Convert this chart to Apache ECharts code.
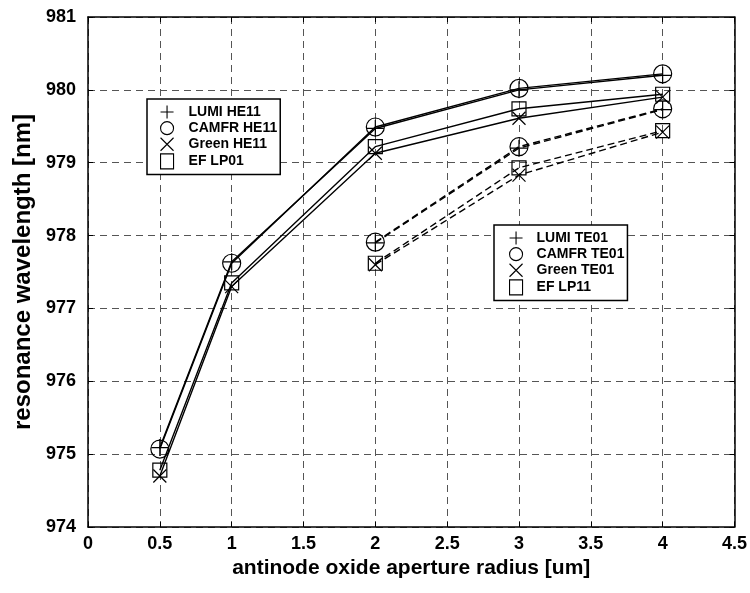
<!DOCTYPE html>
<html>
<head>
<meta charset="utf-8">
<script src="https://cdn.jsdelivr.net/npm/echarts@6/dist/echarts.min.js"></script>
<style>
  html, body { margin: 0; padding: 0; background: #fff; }
  #chart { width: 750px; height: 593px; }
</style>
</head>
<body>
<div id="chart"></div>
<script>
// Aperture radii [um]
const radiusHE = [0.5, 1, 2, 3, 4];
const radiusTE = [2, 3, 4];

// Fundamental mode resonance wavelengths [nm]
const lumiHE11  = [975.09, 977.64, 979.47, 980.00, 980.20];
const camfrHE11 = [975.07, 977.62, 979.49, 980.02, 980.22];
const greenHE11 = [974.70, 977.30, 979.13, 979.61, 979.90];
const efLP01    = [974.78, 977.35, 979.22, 979.74, 979.94];

// First order mode resonance wavelengths [nm]
const lumiTE01  = [977.90, 979.20, 979.73];
const camfrTE01 = [977.91, 979.22, 979.74];
const greenTE01 = [977.60, 978.83, 979.42];
const efLP11    = [977.62, 978.93, 979.44];

const xTicks = { min: 0, max: 4.5, step: 0.5 };
const yTicks = { min: 974, max: 981, step: 1 };

const PLUS  = 'path://M0,10 L20,10 M10,0 L10,20';
const CROSS = 'path://M0,0 L20,20 M20,0 L0,20';

const FONT = 'Liberation Sans, Arial, sans-serif';

const pair = (xs, ys) => xs.map((x, i) => [x, ys[i]]);

function makeSeries(name, xs, ys, symbol, size, dashed) {
  return {
    name: name,
    type: 'line',
    data: pair(xs, ys),
    symbol: symbol,
    symbolSize: size,
    showSymbol: true,
    animation: false,
    z: 3,
    lineStyle: { color: '#000', width: 1.4, type: dashed ? [7, 4] : 'solid' },
    itemStyle: { color: 'rgba(0,0,0,0)', borderColor: '#000', borderWidth: 1.2 },
    emphasis: { disabled: true }
  };
}

const series = [
  makeSeries('LUMI HE11',  radiusHE, lumiHE11,  PLUS,     17, false),
  makeSeries('CAMFR HE11', radiusHE, camfrHE11, 'circle', 18, false),
  makeSeries('Green HE11', radiusHE, greenHE11, CROSS,    13, false),
  makeSeries('EF LP01',    radiusHE, efLP01,    'rect',   14, false),
  makeSeries('LUMI TE01',  radiusTE, lumiTE01,  PLUS,     17, true),
  makeSeries('CAMFR TE01', radiusTE, camfrTE01, 'circle', 18, true),
  makeSeries('Green TE01', radiusTE, greenTE01, CROSS,    13, true),
  makeSeries('EF LP11',    radiusTE, efLP11,    'rect',   14, true)
];

const iconFor = { 'LUMI': PLUS, 'CAMFR': 'circle', 'Green': CROSS, 'EF': 'rect' };

function legendBlock(names, left, top, padLeft, textGap) {
  return {
    left: left,
    top: top,
    orient: 'vertical',
    backgroundColor: '#fff',
    borderColor: '#000',
    borderWidth: 1.5,
    padding: [6, 3, 5, padLeft],
    itemGap: 2,
    itemWidth: 13,
    itemHeight: 15,
    selectedMode: false,
    textStyle: { fontFamily: FONT, fontWeight: 'bold', fontSize: 14, color: '#000', padding: [0, 0, 0, textGap] },
    itemStyle: { color: 'rgba(0,0,0,0)', borderColor: '#000', borderWidth: 1.1 },
    data: names.map(n => ({ name: n, icon: iconFor[n.split(' ')[0]] })),
    z: 10
  };
}

const gridLine = { show: true, lineStyle: { color: '#555', type: [7, 5], width: 1 } };
const labelFont = { fontFamily: FONT, fontWeight: 'bold', fontSize: 18, color: '#000' };

const option = {
  backgroundColor: '#fff',
  animation: false,
  grid: { left: 88, right: 13, top: 17, bottom: 66, show: false },
  legend: [
    legendBlock(['LUMI HE11', 'CAMFR HE11', 'Green HE11', 'EF LP01'], 147, 99, 13, 10),
    legendBlock(['LUMI TE01', 'CAMFR TE01', 'Green TE01', 'EF LP11'], 494, 225, 15, 9)
  ],
  xAxis: [
    {
      type: 'value', min: xTicks.min, max: xTicks.max, interval: xTicks.step,
      position: 'bottom',
      name: 'antinode oxide aperture radius [um]', nameLocation: 'middle', nameGap: 29,
      nameTextStyle: { fontFamily: FONT, fontWeight: 'bold', fontSize: 21, color: '#000' },
      axisLine: { show: true, onZero: false, lineStyle: { color: '#000', width: 1.5 } },
      axisTick: { show: true, inside: true, length: 5, lineStyle: { color: '#000' } },
      axisLabel: Object.assign({ margin: 8 }, labelFont),
      splitLine: gridLine
    },
    {
      type: 'value', min: xTicks.min, max: xTicks.max, interval: xTicks.step,
      position: 'top',
      axisLine: { show: true, onZero: false, lineStyle: { color: '#000', width: 1.5 } },
      axisTick: { show: true, inside: true, length: 5, lineStyle: { color: '#000' } },
      axisLabel: { show: false },
      splitLine: { show: false }
    }
  ],
  yAxis: [
    {
      type: 'value', min: yTicks.min, max: yTicks.max, interval: yTicks.step,
      position: 'left',
      name: 'resonance wavelength [nm]', nameLocation: 'middle', nameGap: 50,
      nameTextStyle: { fontFamily: FONT, fontWeight: 'bold', fontSize: 24, color: '#000', padding: [0, 0, 0, 0] },
      axisLine: { show: true, onZero: false, lineStyle: { color: '#000', width: 1.5 } },
      axisTick: { show: true, inside: true, length: 5, lineStyle: { color: '#000' } },
      axisLabel: Object.assign({ margin: 12 }, labelFont),
      splitLine: gridLine
    },
    {
      type: 'value', min: yTicks.min, max: yTicks.max, interval: yTicks.step,
      position: 'right',
      axisLine: { show: true, onZero: false, lineStyle: { color: '#000', width: 1.5 } },
      axisTick: { show: true, inside: true, length: 5, lineStyle: { color: '#000' } },
      axisLabel: { show: false },
      splitLine: { show: false }
    }
  ],
  series: series
};

const chart = echarts.init(document.getElementById('chart'), null, { renderer: 'canvas' });
chart.setOption(option);
</script>
</body>
</html>
